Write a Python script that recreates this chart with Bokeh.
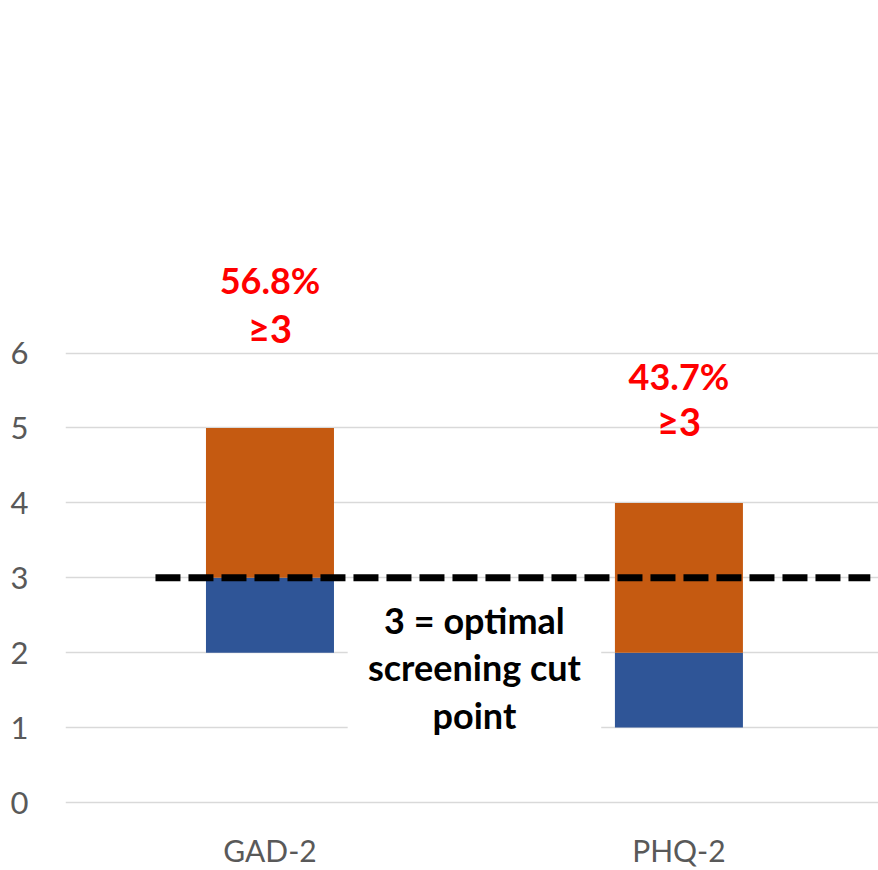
from bokeh.plotting import figure
from bokeh.models import FixedTicker, ColumnDataSource
from bokeh.core.properties import value
from bokeh.embed import file_html
from bokeh.resources import INLINE

categories = ["GAD-2", "PHQ-2"]
x_pos = [0.5, 1.5]
blue_bottom = [2, 1]
blue_top = [3, 2]
orange_bottom = [3, 2]
orange_top = [5, 4]
pct_labels = ["56.8%", "43.7%"]
ge_labels = ["\u22653", "\u22653"]
pct_y = [6.97, 5.69]
ge_y = [6.33, 5.09]
cut_point = 3
cut_x = [0.22, 1.968]
note_lines = ["3 = optimal", "screening cut", "point"]
note_y = [2.44, 1.81, 1.17]
note_x = 1.0
y_ticks = [0, 1, 2, 3, 4, 5, 6]

FONT = "Lato"
p = figure(width=878, height=870, x_range=(0, 1.988), y_range=(-0.04, 10.707),
           output_backend="svg", toolbar_location=None)
p.min_border_left = 65
p.min_border_right = 0
p.min_border_top = 0
p.min_border_bottom = 64
p.outline_line_color = None
p.background_fill_color = "white"
p.border_fill_color = "white"

# axes
p.xaxis.ticker = FixedTicker(ticks=x_pos)
p.xaxis.major_label_overrides = {x: c for x, c in zip(x_pos, categories)}
p.yaxis.ticker = FixedTicker(ticks=y_ticks)
for ax in (p.xaxis[0], p.yaxis[0]):
    ax.axis_line_color = None
    ax.major_tick_line_color = None
    ax.minor_tick_line_color = None
    ax.major_label_text_font = FONT
    ax.major_label_text_color = "#595959"
p.xaxis.major_label_text_font_size = "30px"
p.yaxis.major_label_text_font_size = "31px"
p.xaxis.major_label_standoff = 20
p.yaxis.major_label_standoff = 31
p.xgrid.grid_line_color = None
p.ygrid.grid_line_color = "#d9d9d9"
p.ygrid.grid_line_width = 1.5

bw = 0.313
p.vbar(x=x_pos, bottom=blue_bottom, top=blue_top, width=bw,
       fill_color="#2F5597", line_color=None)
p.vbar(x=x_pos, bottom=orange_bottom, top=orange_top, width=bw,
       fill_color="#C55A11", line_color=None)

# white box behind the note
p.quad(left=[note_x - 0.31], right=[note_x + 0.31], bottom=[0.77], top=[2.84],
       fill_color="white", line_color=None)

p.segment(x0=[cut_x[0]], x1=[cut_x[1]], y0=[cut_point], y1=[cut_point],
          line_color="black", line_width=7, line_dash="25 8", line_cap="butt")

src = ColumnDataSource(dict(x=x_pos, pct=pct_labels, ge=ge_labels, py=pct_y, gy=ge_y))
p.text(x="x", y="py", text="pct", source=src, text_align="center",
       text_baseline="middle", text_color="#FF0000", text_font=value(FONT),
       text_font_style="bold", text_font_size="36px")
p.text(x="x", y="gy", text="ge", source=src, text_align="center",
       text_baseline="middle", text_color="#FF0000", text_font=value(FONT),
       text_font_style="bold", text_font_size="38px")

p.text(x=[note_x] * len(note_lines), y=note_y, text=note_lines, text_align="center",
       text_baseline="middle", text_color="black", text_font=value(FONT),
       text_font_style="bold", text_font_size="36px")

open("out.html", "w").write(file_html(p, INLINE))
